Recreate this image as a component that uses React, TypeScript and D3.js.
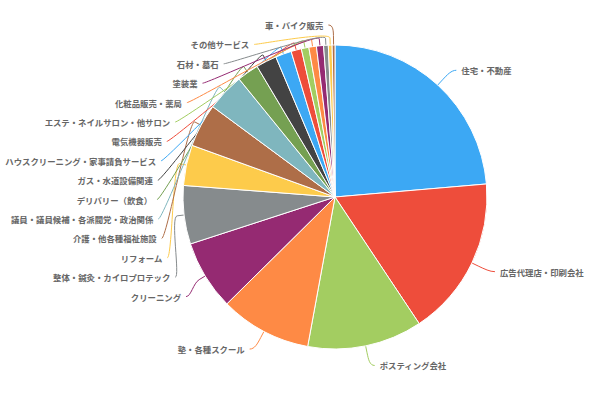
import React from 'react';
import * as d3 from 'd3';

const categories = [
  '住宅・不動産',
  '広告代理店・印刷会社',
  'ポスティング会社',
  '塾・各種スクール',
  'クリーニング',
  '整体・鍼灸・カイロプロテック',
  'リフォーム',
  '介護・他各種福祉施設',
  '議員・議員候補・各派閥党・政治関係',
  'デリバリー（飲食）',
  'ガス・水道設備関連',
  'ハウスクリーニング・家事請負サービス',
  '電気機器販売',
  'エステ・ネイルサロン・他サロン',
  '化粧品販売・薬局',
  '塗装業',
  '石材・墓石',
  'その他サービス',
  '車・バイク販売',
];

const values = [23.6, 17.0, 12.2, 9.7, 7.4, 6.2, 4.3, 4.6, 4.0, 2.3, 2.2, 1.7, 1.1, 0.8, 0.8, 0.75, 0.5, 0.4, 0.3];

const palette = [
  '#3ca8f4', '#ee4d3b', '#a3cd61', '#fe8a45', '#952a72', '#868b8d',
  '#fdcb4b', '#ae6e48', '#7fb6be', '#75a052', '#434343',
];

const W = 595;
const H = 394;
const cx = 335;
const cy = 197;
const radius = 152;
const R1 = 172;
const len2 = 5;
const gap = 5;
const breakOffset = 7;
const spacing = 19.4;

type Item = {
  i: number; mid: number; side: number; natY: number; y: number; shifted: boolean;
};

function layoutSide(items: Item[], top: number, bottom: number) {
  const n = items.length;
  const blocks: { sum: number; count: number }[] = [];
  items.forEach((it, i) => {
    blocks.push({ sum: it.natY - i * spacing, count: 1 });
    while (blocks.length > 1) {
      const last = blocks[blocks.length - 1];
      const prev = blocks[blocks.length - 2];
      if (prev.sum / prev.count > last.sum / last.count) {
        prev.sum += last.sum;
        prev.count += last.count;
        blocks.pop();
      } else break;
    }
  });
  const lo = top;
  const hi = bottom - (n - 1) * spacing;
  let i = 0;
  blocks.forEach((b) => {
    const v = Math.max(lo, Math.min(hi, b.sum / b.count));
    for (let k = 0; k < b.count; k++) {
      items[i].y = v + i * spacing;
      items[i].shifted = Math.abs(items[i].y - items[i].natY) > 1;
      i++;
    }
  });
}

export default function App() {
  const pie = d3.pie<number>().sort(null).value((d) => d)(values);
  const arc = d3.arc<d3.PieArcDatum<number>>().innerRadius(0).outerRadius(radius);

  const items: Item[] = pie.map((a, i) => {
    const mid = (a.startAngle + a.endAngle) / 2;
    const side = Math.sin(mid) < 0 ? -1 : 1;
    const natY = cy - R1 * Math.cos(mid);
    return { i, mid, side, natY, y: natY, shifted: false };
  });
  const left = items.filter((d) => d.side < 0).sort((a, b) => a.natY - b.natY);
  const right = items.filter((d) => d.side > 0).sort((a, b) => a.natY - b.natY);
  layoutSide(left, 25, 385);
  layoutSide(right, 25, 385);

  const labels = items.map((it) => {
    const sx = Math.sin(it.mid);
    const sy = -Math.cos(it.mid);
    const touch: [number, number] = [cx + radius * sx, cy + radius * sy];
    const brk: [number, number] = [cx + (radius + breakOffset) * sx, cy + (radius + breakOffset) * sy];
    let textX: number;
    if (it.shifted) {
      const dy = it.y - cy;
      const rA = 187;
      const rB = dy < 0 ? 174 : 186;
      const dx = rA * Math.sqrt(Math.max(0, 1 - (dy * dy) / (rB * rB))) - 4;
      textX = cx + it.side * Math.max(dx, 8);
    } else {
      const ex = cx + R1 * sx;
      textX = ex + it.side * (len2 + gap);
    }
    const start: [number, number] = [textX - it.side * gap, it.y];
    const path = d3.path();
    path.moveTo(start[0], start[1]);
    path.bezierCurveTo(
      start[0] - it.side * 5, start[1],
      2 * brk[0] - touch[0], 2 * brk[1] - touch[1],
      brk[0], brk[1],
    );
    path.lineTo(touch[0], touch[1]);
    return { it, textX, path: path.toString() };
  });

  return (
    <svg
      width={W}
      height={H}
      style={{ position: 'absolute', left: 0, top: 0, background: '#fff' }}
      fontFamily="'Noto Sans CJK JP', sans-serif"
    >
      <g>
        {labels.map((l) => (
          <path key={'l' + l.it.i} d={l.path} fill="none" stroke={palette[l.it.i % palette.length]} strokeWidth={1} />
        ))}
      </g>
      <g transform={`translate(${cx},${cy})`}>
        {pie.map((a, i) => (
          <path key={i} d={arc(a) || ''} fill={palette[i % palette.length]} stroke="#fff" strokeWidth={1} />
        ))}
      </g>
      <g>
        {labels.map((l) => (
          <text
            key={'t' + l.it.i}
            x={l.textX}
            y={l.it.y}
            textAnchor={l.it.side < 0 ? 'end' : 'start'}
            dominantBaseline="central"
            fontSize={8.4}
            fontWeight="bold"
            fill="#666"
          >
            {categories[l.it.i]}
          </text>
        ))}
      </g>
    </svg>
  );
}
